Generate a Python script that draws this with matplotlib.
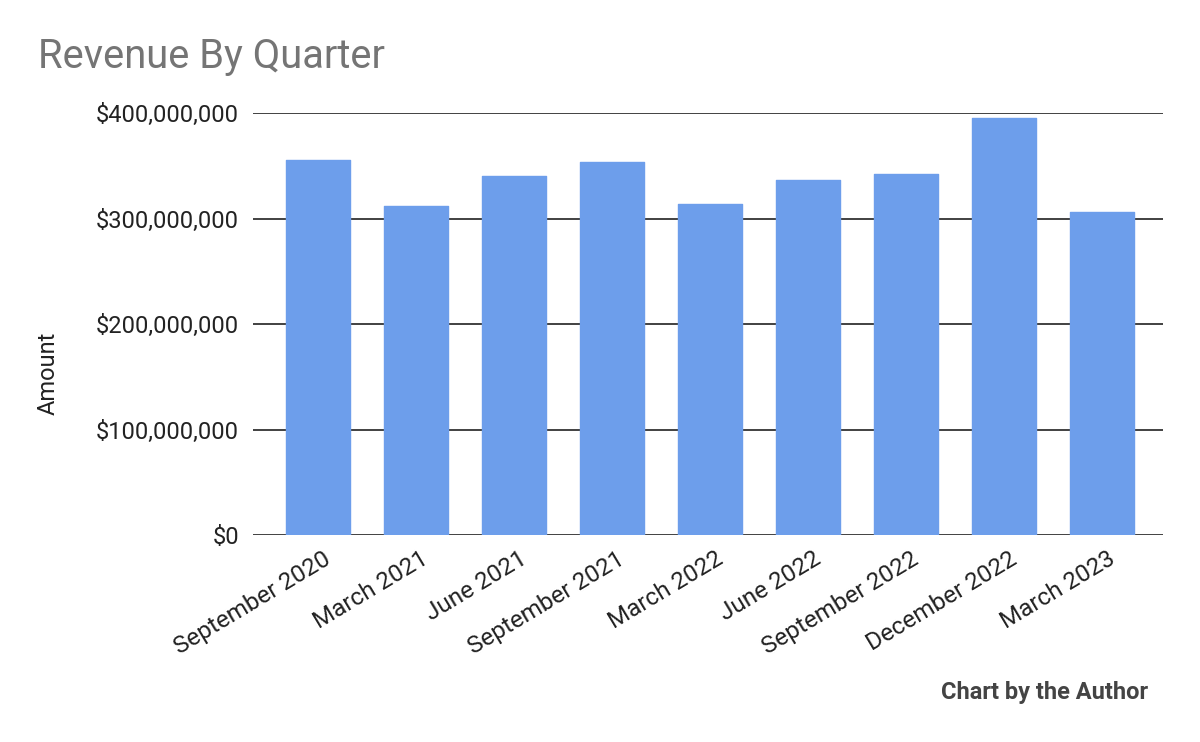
import matplotlib.pyplot as plt
import matplotlib.transforms as mtransforms
from matplotlib.ticker import FuncFormatter

quarters = ["September 2020", "March 2021", "June 2021", "September 2021",
            "March 2022", "June 2022", "September 2022", "December 2022", "March 2023"]
revenue = [355.5e6, 312e6, 340.4e6, 353.6e6, 313.9e6, 336.6e6, 342.3e6, 395.3e6, 306.3e6]
y_ticks = [0, 100e6, 200e6, 300e6, 400e6]

plt.rcParams['font.family'] = ['Roboto', 'DejaVu Sans']

fig = plt.figure(figsize=(12, 7.42), dpi=100)
ax = fig.add_axes([253 / 1200, 1 - 535 / 742, 910 / 1200, 422 / 742])

x = range(len(quarters))
ax.bar(x, revenue, width=0.65, color='#6d9eeb', edgecolor='#6d9eeb',
       linewidth=1, joinstyle='round', zorder=3)

ax.set_ylim(0, 400e6)
ax.set_xlim(-0.66, 8.62)
ax.set_yticks(y_ticks)
ax.yaxis.set_major_formatter(FuncFormatter(lambda v, p: '${:,.0f}'.format(v)))
ax.grid(axis='y', color='#333333', linewidth=1.3, zorder=1)
ax.set_axisbelow(True)
for s in ax.spines.values():
    s.set_visible(False)

ax.tick_params(axis='y', length=0, pad=10, labelsize=17, labelcolor='#222222')
ax.tick_params(axis='x', length=0, pad=9, labelsize=17.5, labelcolor='#222222')
ax.set_xticks(list(x))
ax.set_xticklabels(quarters, rotation=31, ha='right', rotation_mode='anchor')

# nudge the rotated labels a few pixels right, like the original
shift = mtransforms.ScaledTranslation(5 / 100, 0, fig.dpi_scale_trans)
for lbl in ax.get_xticklabels():
    lbl.set_transform(lbl.get_transform() + shift)

# y label sits lower than the axes centre in the original
fig.text(48 / 1200, 1 - 373 / 742, 'Amount', fontsize=17, color='#222222',
         rotation=90, ha='center', va='center')

fig.text(38 / 1200, 1 - 56 / 742, 'Revenue By Quarter', fontsize=28.7, color='#757575',
         va='center', ha='left')
fig.text(1148 / 1200, 1 - 692 / 742, 'Chart by the Author', fontsize=17, color='#444444',
         fontweight='bold', va='center', ha='right')

fig.savefig('out.png', dpi=100)
